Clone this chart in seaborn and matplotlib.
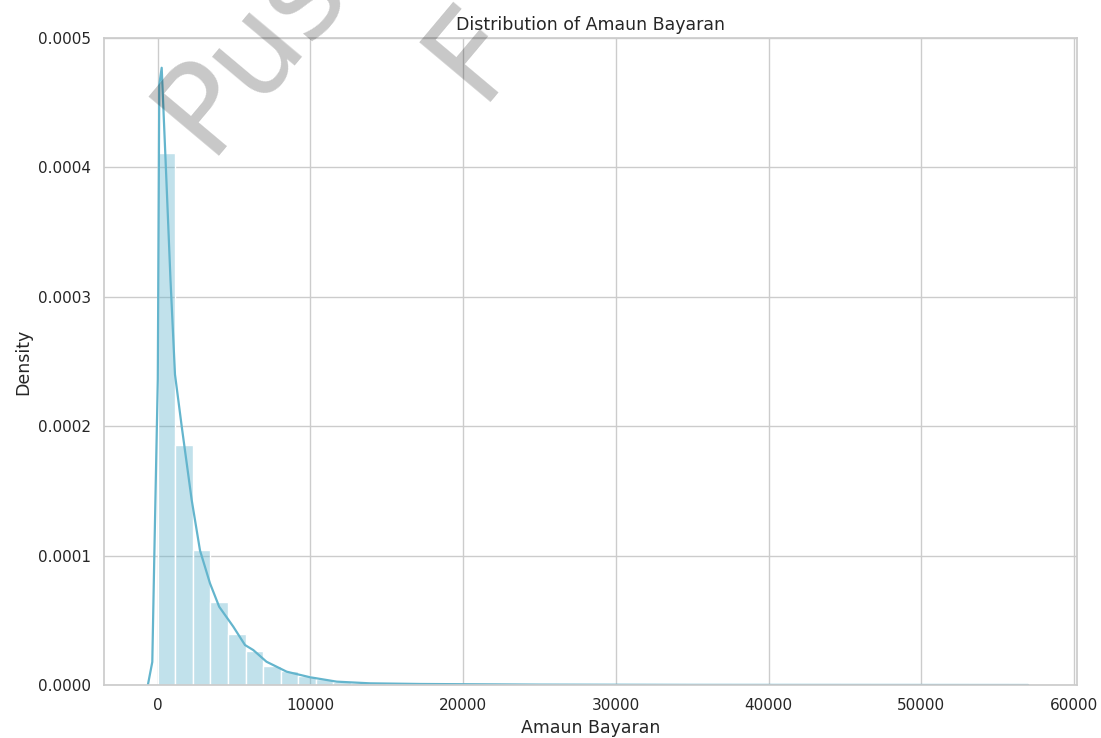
import numpy as np
import pandas as pd
import matplotlib
matplotlib.use("Agg")
import matplotlib.pyplot as plt
import seaborn as sns

# Histogram: bin width and density height of each bin (Amaun Bayaran)
bin_width = 1150
bin_density = [
    0.000411, 0.0001855, 0.0001043, 0.0000639, 0.0000394, 0.0000265,
    0.0000147, 0.0000108, 0.0000070, 0.0000044, 0.0000027, 0.0000018,
    0.0000012, 0.0000009, 0.0000006, 0.0000005, 0.0000004, 0.0000003,
]
n_bins = 50

# Kernel density estimate curve
kde_x = [-642, -360, -229, 0, 98, 255, 536, 832, 1126, 1565, 2220, 2764,
         3418, 4020, 4944, 5711, 6254, 7119, 8441, 9967, 11716, 13896,
         17170, 25000, 35000, 57000]
kde_y = [0.0000005, 0.0000178, 0.0000991, 0.000236, 0.000464, 0.000477,
         0.000398, 0.000313, 0.000240, 0.000200, 0.000143, 0.000104,
         0.0000786, 0.0000605, 0.0000451, 0.0000309, 0.0000270, 0.0000180,
         0.0000103, 0.0000060, 0.0000026, 0.0000013, 0.0000008, 0.0000003,
         0.0000001, 0.0]

x_ticks = [0, 10000, 20000, 30000, 40000, 50000, 60000]
y_ticks = [0.0, 0.0001, 0.0002, 0.0003, 0.0004, 0.0005]

sns.set_theme(style="whitegrid")
plt.rcParams["font.family"] = ["DejaVu Sans"]

color = "#64b5cd"

heights = np.zeros(n_bins)
heights[: len(bin_density)] = bin_density
centers = (np.arange(n_bins) + 0.5) * bin_width
hist_df = pd.DataFrame({"Amaun Bayaran": centers, "w": heights})
kde_df = pd.DataFrame({"Amaun Bayaran": kde_x, "Density": kde_y})

fig = plt.figure(figsize=(11.01, 7.38), dpi=100)
ax = fig.add_axes([0.0945, 0.0718, 0.8837, 0.8767])

sns.histplot(data=hist_df, x="Amaun Bayaran", weights="w",
             binwidth=bin_width, binrange=(0, n_bins * bin_width),
             stat="count", color=color, alpha=0.4, edgecolor="white",
             linewidth=1, ax=ax)
sns.lineplot(data=kde_df, x="Amaun Bayaran", y="Density", color=color,
             linewidth=1.6, ax=ax)

ax.set_xlim(-3520, 60200)
ax.set_ylim(0, 0.0005)
ax.set_xticks(x_ticks)
ax.set_yticks(y_ticks)
ax.set_yticklabels([f"{v:.4f}" for v in y_ticks])
ax.tick_params(labelsize=11)
ax.set_xlabel("Amaun Bayaran", fontsize=12.5)
ax.set_ylabel("Density", fontsize=12.5)
ax.set_title("Distribution of Amaun Bayaran", fontsize=12.5)

# Semi-transparent watermark text across the top
wm = dict(fontsize=91, rotation=50, rotation_mode="anchor", ha="left",
          va="baseline", color="black", alpha=0.22, zorder=10)
fig.text(0.188, 0.789, "Pus", **wm)
fig.text(0.435, 0.862, "F", **wm)

fig.savefig("out.png", dpi=100)
